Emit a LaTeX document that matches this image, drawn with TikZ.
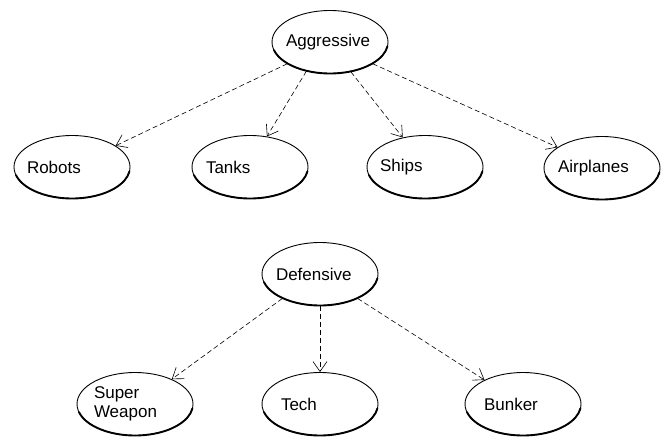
\documentclass[tikz,border=0pt]{standalone}
\usepackage{fontspec}
\setmainfont{Liberation Sans}
\usetikzlibrary{arrows.meta,shapes.geometric}

\tikzset{
  oval/.style={ellipse, draw, line width=0.9pt, minimum width=116pt,
    minimum height=63pt, inner sep=0pt, text width=82pt,
    font=\fontsize{17}{19}\selectfont, align=left},
  shade line/.style={line width=1.9pt, line cap=round,
    xshift=0.5pt, yshift=-0.6pt},
  link/.style={line width=0.6pt, dash pattern=on 5pt off 3pt,
    -{Straight Barb[length=10pt,width=14pt,line width=0.6pt]}}
}

% heavier lower rim of an oval node
\newcommand\rim[1]{%
  \draw[shade line] (#1.center) ++(195:58pt and 31.5pt)
    arc[start angle=195, end angle=352, x radius=58pt, y radius=31.5pt];}

\begin{document}
\begin{tikzpicture}[x=1pt,y=1pt]
\useasboundingbox (0,0) rectangle (668,-437);

% offensive branch
\node[oval] (agg)   at (330,-42)  {\hspace*{-3pt}Aggressive};
\node[oval] (rob)   at (72,-167)  {\hspace*{-4pt}Robots};
\node[oval] (tank)  at (250,-167) {\hspace*{-3pt}Tanks};
\node[oval] (ship)  at (425,-167) {\hspace*{-4pt}Ships};
\node[oval] (plane) at (602,-168) {\hspace*{-3pt}Airplanes};

% defensive branch
\node[oval] (def)   at (320,-274) {\hspace*{-3pt}Defensive};
\node[oval] (sup)   at (135,-404) {Super\\Weapon};
\node[oval] (tech)  at (320,-404) {\hspace*{2pt}Tech};
\node[oval] (bunk)  at (523,-404) {\hspace*{2pt}Bunker};

\foreach \n in {agg,rob,tank,ship,plane,def,sup,tech,bunk} {\rim{\n}}

\draw[link] (agg.207) -- (rob.26);
\draw[link] (agg.231) -- (tank.61);
\draw[link] (agg.305) -- (ship.127);
\draw[link] (agg.333) -- (plane.155);

\draw[link] (def.213) -- (sup.34);
\draw[link] (def.270) -- (tech.90);
\draw[link] (def.327) -- (bunk.148);
\end{tikzpicture}
\end{document}
